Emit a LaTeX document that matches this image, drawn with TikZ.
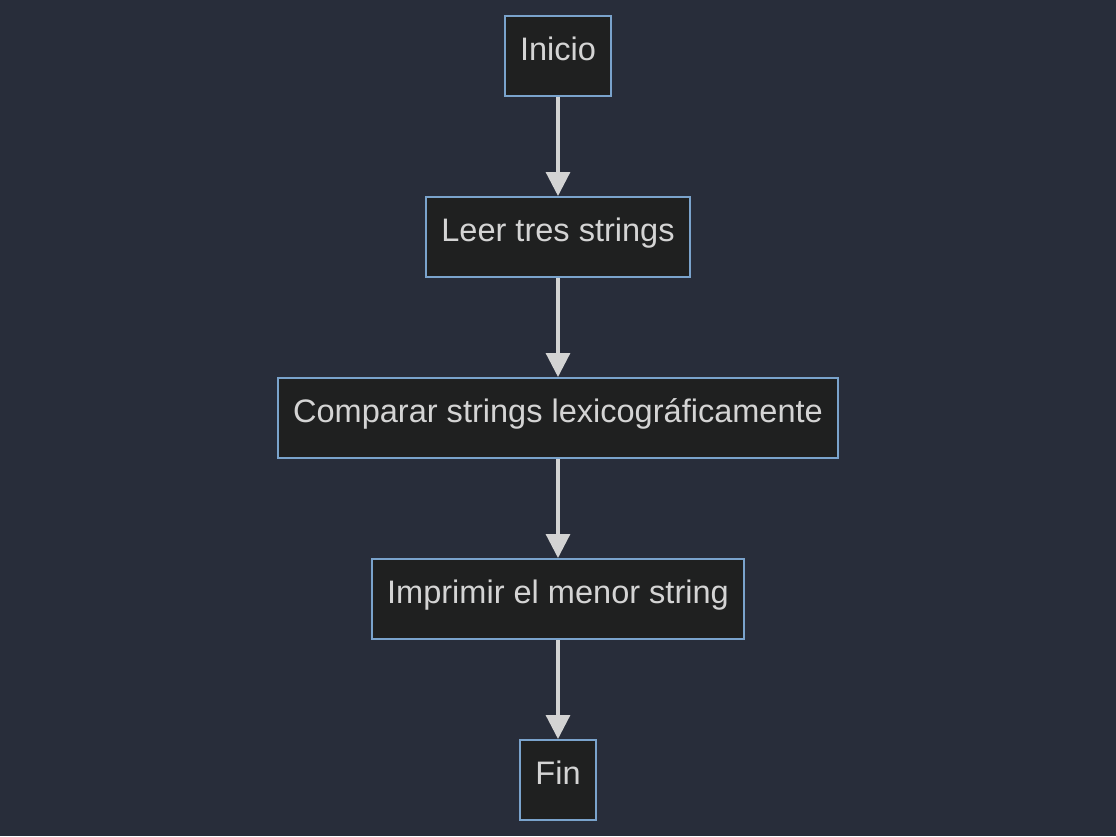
\documentclass[tikz,border=0pt]{standalone}
\usepackage{fontspec}
\setmainfont{Liberation Sans}
\usetikzlibrary{arrows.meta}
\definecolor{bgc}{HTML}{282D3A}
\definecolor{boxfill}{HTML}{1F2020}
\definecolor{boxline}{HTML}{7AA3CC}
\definecolor{txt}{HTML}{D4D4D4}
\definecolor{arr}{HTML}{D3D3D3}
\begin{document}
\begin{tikzpicture}[x=0.75pt,y=-0.75pt,
  stepbox/.style={draw=boxline, line width=1.5pt, fill=boxfill, text=txt,
    font=\fontsize{24.4}{28}\selectfont, inner sep=0pt, minimum height=60pt,
    text height=15.5pt, text depth=8.5pt},
  flow/.style={draw=arr, line width=2.4pt, -{Triangle[width=18pt,length=18pt]}}]
\fill[bgc] (0,0) rectangle (1116,836);
\useasboundingbox (0,0) rectangle (1116,836);
\node[stepbox, minimum width=79.5pt] (a) at (558,56) {Inicio};
\node[stepbox, minimum width=198pt] (b) at (558,237) {Leer tres strings};
\node[stepbox, minimum width=420pt] (c) at (558,418) {Comparar strings lexicográficamente};
\node[stepbox, minimum width=279pt] (d) at (558,599) {Imprimir el menor string};
\node[stepbox, minimum width=57pt] (e) at (558,780) {Fin};
\draw[flow] (a) -- (b);
\draw[flow] (b) -- (c);
\draw[flow] (c) -- (d);
\draw[flow] (d) -- (e);
\end{tikzpicture}
\end{document}
